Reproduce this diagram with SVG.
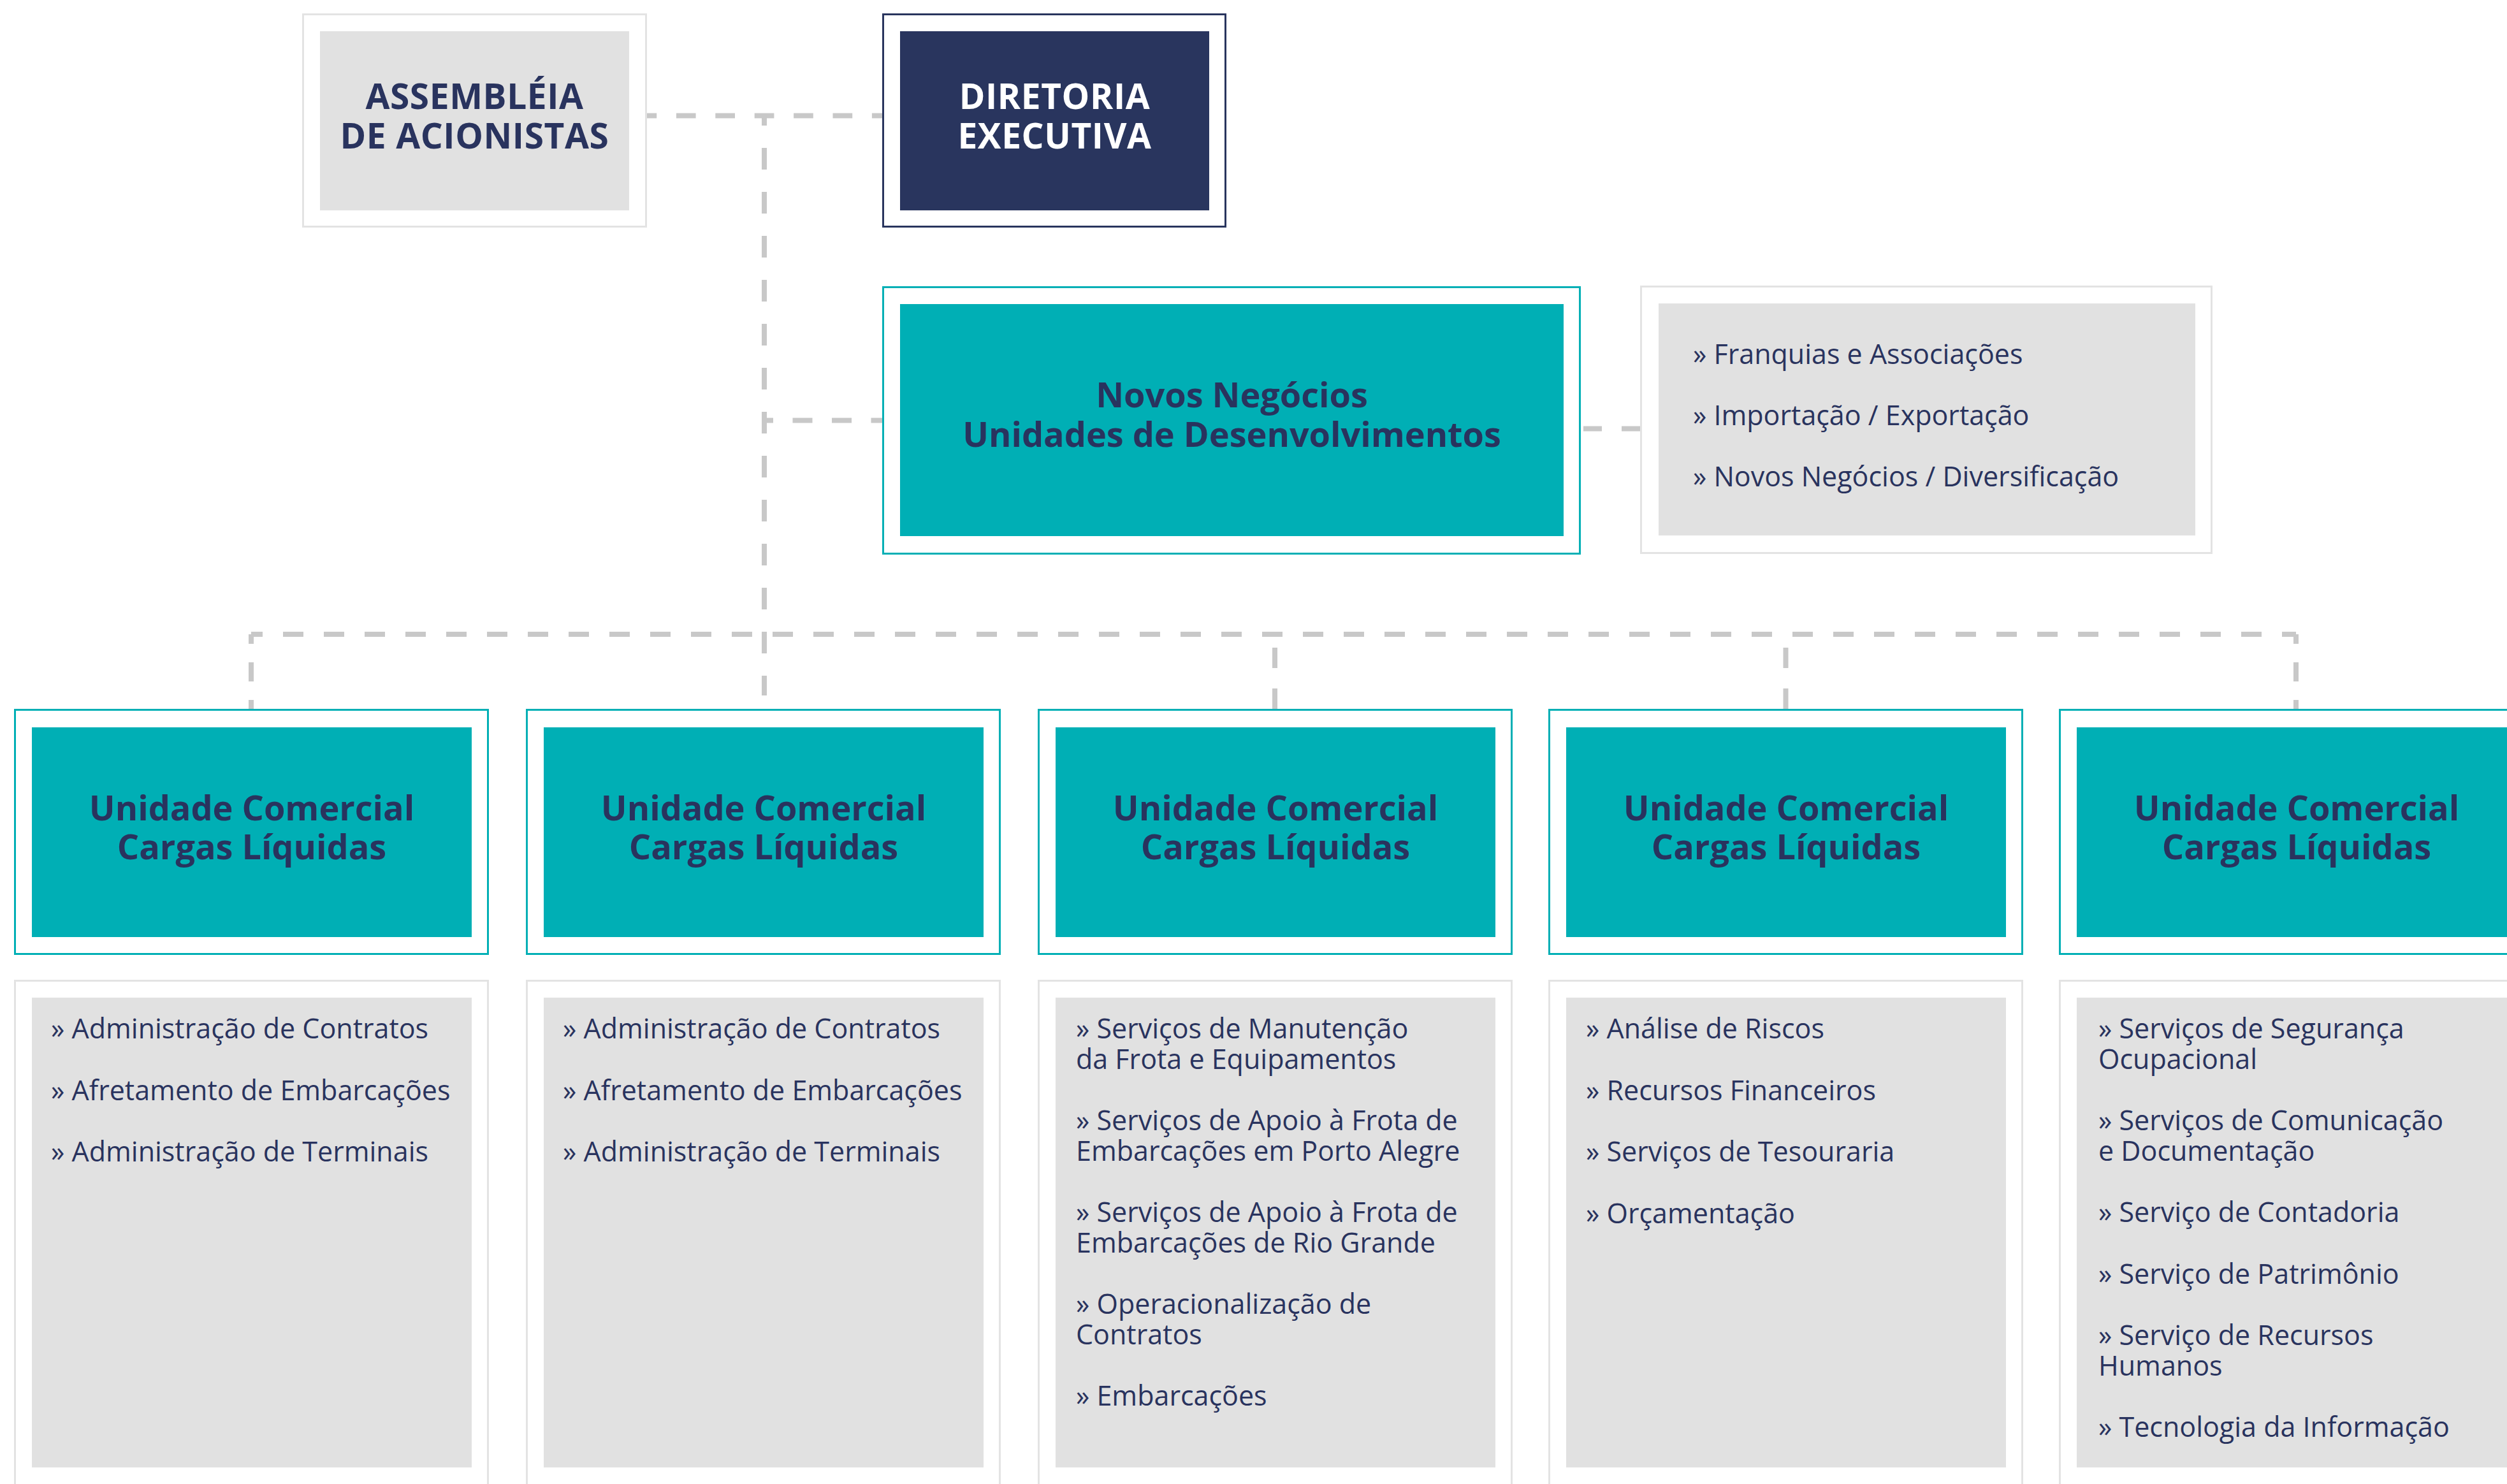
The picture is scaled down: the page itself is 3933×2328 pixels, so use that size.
<svg xmlns="http://www.w3.org/2000/svg" width="3933" height="2328" viewBox="0 0 3933 2328">
<style>
.frame-gray{fill:#ffffff;stroke:#e3e3e3;stroke-width:3}
.frame-teal{fill:#ffffff;stroke:#00afb5;stroke-width:3}
.frame-navy{fill:#ffffff;stroke:#29355e;stroke-width:3}
.fill-gray{fill:#e1e1e1}
.fill-teal{fill:#00afb5}
.fill-navy{fill:#29355e}
.title{font-family:"Open Sans","Liberation Sans",sans-serif;font-weight:700;font-size:54px;fill:#29335e;text-anchor:middle}
.title-w{fill:#ffffff}
.caps{font-size:55px;letter-spacing:0.6px}
.item{font-family:"Open Sans","Liberation Sans",sans-serif;font-weight:400;font-size:43px;fill:#29335e}
.dash{fill:none;stroke:#c8c8c8;stroke-width:8}
</style>
<rect width="3933" height="2328" fill="#ffffff"/>
<g id="connectors">
<path class="dash" d="M1015,181.5 H1384" stroke-dasharray="30.7 30.7" stroke-dashoffset="15.5"/>
<path class="dash" d="M1199,181 V1091" stroke-dasharray="34 35" stroke-dashoffset="18"/>
<path class="dash" d="M1199,659.5 H1384" stroke-dasharray="31 30.5" stroke-dashoffset="17"/>
<path class="dash" d="M2573,672.5 H2480" stroke-dasharray="29 31"/>
<path class="dash" d="M394,995 H3602" stroke-dasharray="32 32" stroke-dashoffset="14"/>
<path class="dash" d="M394,995 V1112" stroke-dasharray="30 29" stroke-dashoffset="15"/>
<path class="dash" d="M3602,995 V1112" stroke-dasharray="30 29" stroke-dashoffset="15"/>
<path class="dash" d="M2000,1112 V995" stroke-dasharray="32 32"/>
<path class="dash" d="M2801.5,1112 V995" stroke-dasharray="32 32"/>
</g>
<g id="assembleia">
<rect class="frame-gray" x="475.5" y="22.5" width="538" height="333"/>
<rect class="fill-gray" x="502" y="49" width="485" height="281"/>
<text class="title caps" x="744.5" y="171">ASSEMBLÉIA</text>
<text class="title caps" x="744.5" y="233">DE ACIONISTAS</text>
</g>
<g id="diretoria">
<rect class="frame-navy" x="1385.5" y="22.5" width="537" height="333"/>
<rect class="fill-navy" x="1412" y="49" width="485" height="281"/>
<text class="title title-w caps" x="1654.5" y="171">DIRETORIA</text>
<text class="title title-w caps" x="1654.5" y="233">EXECUTIVA</text>
</g>
<g id="novos-negocios">
<rect class="frame-teal" x="1385.5" y="450.5" width="1093" height="418"/>
<rect class="fill-teal" x="1412" y="477" width="1041" height="364"/>
<text class="title" x="1932.5" y="639">Novos Negócios</text>
<text class="title" x="1932.5" y="701">Unidades de Desenvolvimentos</text>
</g>
<g id="novos-negocios-lista">
<rect class="frame-gray" x="2574.5" y="449.5" width="895" height="418"/>
<rect class="fill-gray" x="2602" y="476" width="842" height="364"/>
<text class="item" x="2656" y="571">» Franquias e Associações</text>
<text class="item" x="2656" y="667">» Importação / Exportação</text>
<text class="item" x="2656" y="763">» Novos Negócios / Diversificação</text>
</g>
<g id="unidade-1">
<rect class="frame-teal" x="23.5" y="1113.5" width="742" height="383"/>
<rect class="fill-teal" x="50" y="1141" width="690" height="329"/>
<text class="title" x="395" y="1287">Unidade Comercial</text>
<text class="title" x="395" y="1348">Cargas Líquidas</text>
</g>
<g id="unidade-1-lista">
<rect class="frame-gray" x="23.5" y="1538.5" width="742" height="820"/>
<rect class="fill-gray" x="50" y="1565" width="690" height="737"/>
<text class="item" x="80" y="1629">» Administração de Contratos</text>
<text class="item" x="80" y="1725.5">» Afretamento de Embarcações</text>
<text class="item" x="80" y="1822">» Administração de Terminais</text>
</g>
<g id="unidade-2">
<rect class="frame-teal" x="826.5" y="1113.5" width="742" height="383"/>
<rect class="fill-teal" x="853" y="1141" width="690" height="329"/>
<text class="title" x="1198" y="1287">Unidade Comercial</text>
<text class="title" x="1198" y="1348">Cargas Líquidas</text>
</g>
<g id="unidade-2-lista">
<rect class="frame-gray" x="826.5" y="1538.5" width="742" height="820"/>
<rect class="fill-gray" x="853" y="1565" width="690" height="737"/>
<text class="item" x="883" y="1629">» Administração de Contratos</text>
<text class="item" x="883" y="1725.5">» Afretamento de Embarcações</text>
<text class="item" x="883" y="1822">» Administração de Terminais</text>
</g>
<g id="unidade-3">
<rect class="frame-teal" x="1629.5" y="1113.5" width="742" height="383"/>
<rect class="fill-teal" x="1656" y="1141" width="690" height="329"/>
<text class="title" x="2001" y="1287">Unidade Comercial</text>
<text class="title" x="2001" y="1348">Cargas Líquidas</text>
</g>
<g id="unidade-3-lista">
<rect class="frame-gray" x="1629.5" y="1538.5" width="742" height="820"/>
<rect class="fill-gray" x="1656" y="1565" width="690" height="737"/>
<text class="item" x="1688" y="1629">» Serviços de Manutenção<tspan x="1688" dy="47.5">da Frota e Equipamentos</tspan></text>
<text class="item" x="1688" y="1773">» Serviços de Apoio à Frota de<tspan x="1688" dy="47.5">Embarcações em Porto Alegre</tspan></text>
<text class="item" x="1688" y="1917">» Serviços de Apoio à Frota de<tspan x="1688" dy="47.5">Embarcações de Rio Grande</tspan></text>
<text class="item" x="1688" y="2061">» Operacionalização de<tspan x="1688" dy="47.5">Contratos</tspan></text>
<text class="item" x="1688" y="2205">» Embarcações</text>
</g>
<g id="unidade-4">
<rect class="frame-teal" x="2430.5" y="1113.5" width="742" height="383"/>
<rect class="fill-teal" x="2457" y="1141" width="690" height="329"/>
<text class="title" x="2802" y="1287">Unidade Comercial</text>
<text class="title" x="2802" y="1348">Cargas Líquidas</text>
</g>
<g id="unidade-4-lista">
<rect class="frame-gray" x="2430.5" y="1538.5" width="742" height="820"/>
<rect class="fill-gray" x="2457" y="1565" width="690" height="737"/>
<text class="item" x="2488" y="1629">» Análise de Riscos</text>
<text class="item" x="2488" y="1725.5">» Recursos Financeiros</text>
<text class="item" x="2488" y="1822">» Serviços de Tesouraria</text>
<text class="item" x="2488" y="1918.5">» Orçamentação</text>
</g>
<g id="unidade-5">
<rect class="frame-teal" x="3231.5" y="1113.5" width="742" height="383"/>
<rect class="fill-teal" x="3258" y="1141" width="690" height="329"/>
<text class="title" x="3603" y="1287">Unidade Comercial</text>
<text class="title" x="3603" y="1348">Cargas Líquidas</text>
</g>
<g id="unidade-5-lista">
<rect class="frame-gray" x="3231.5" y="1538.5" width="742" height="820"/>
<rect class="fill-gray" x="3258" y="1565" width="690" height="737"/>
<text class="item" x="3292" y="1629">» Serviços de Segurança<tspan x="3292" dy="47.5">Ocupacional</tspan></text>
<text class="item" x="3292" y="1773">» Serviços de Comunicação<tspan x="3292" dy="47.5">e Documentação</tspan></text>
<text class="item" x="3292" y="1917">» Serviço de Contadoria</text>
<text class="item" x="3292" y="2013.5">» Serviço de Patrimônio</text>
<text class="item" x="3292" y="2110">» Serviço de Recursos<tspan x="3292" dy="47.5">Humanos</tspan></text>
<text class="item" x="3292" y="2254">» Tecnologia da Informação</text>
</g>
</svg>
